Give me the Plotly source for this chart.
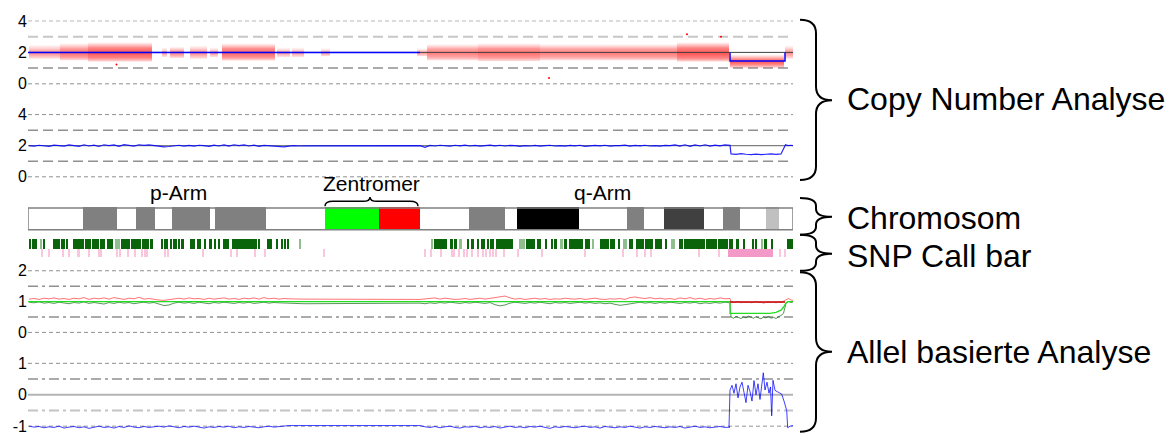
import plotly.graph_objects as go

W, H = 1173, 440
FONT = "Liberation Sans, Arial, Helvetica, sans-serif"
CHROM_LEN = 153.0  # Mb

# ---------------- chromosome ideogram (Mb) ----------------
BAND_START = [0.0, 11.0, 17.8, 21.6, 25.4, 28.8, 36.4, 37.4, 47.6, 59.4, 70.2, 78.4,
              88.2, 95.4, 97.8, 110.2, 119.8, 123.2, 127.2, 135.2, 139.0, 142.4, 147.6, 150.2]
BAND_END = [11.0, 17.8, 21.6, 25.4, 28.8, 36.4, 37.4, 47.6, 59.4, 70.2, 78.4, 88.2,
            95.4, 97.8, 110.2, 119.8, 123.2, 127.2, 135.2, 139.0, 142.4, 147.6, 150.2, 153.0]
BAND_STAIN = ["gneg", "gpos50", "gneg", "gpos50", "gneg", "gpos50", "gneg", "gpos50",
              "gneg", "acen_p", "acen_q", "gneg", "gpos50", "gneg", "gpos100", "gneg",
              "gpos50", "gneg", "gpos75", "gneg", "gpos50", "gneg", "gpos25", "gneg"]
ARM_LABELS = ["p-Arm", "Zentromer", "q-Arm"]
ARM_LABEL_POS = [30.0, 68.6, 114.8]

# ---------------- SNP call bar (Mb intervals) ----------------
CALL_START = [0.2, 0.8, 1.34, 2.94, 5.06, 6.66, 7.6, 9.06, 11.34, 12.8, 14.4, 15.74, 18.54,
              20.54, 22.8, 24.4, 26.66, 27.2, 28.54, 29.06, 30.0, 30.66, 32.4, 32.8, 33.74,
              35.2, 36.14, 37.34, 38.14, 39.06, 40.8, 41.86, 43.06, 45.06, 46.14, 47.74,
              49.74, 50.54, 51.2, 51.74,
              81.2, 81.86, 84.4, 85.2, 87.86, 88.66, 89.74, 90.54, 91.74, 92.4, 93.6, 96.26,
              99.6, 101.74, 103.46, 104.54, 105.2, 107.2, 108.26, 111.34, 114.4, 116.4, 118.0,
              120.26, 121.6, 123.46, 125.46, 127.34, 130.26, 131.2, 134.26, 135.6, 138.0,
              140.14, 141.6, 142.94, 144.8, 145.46, 147.2, 148.66, 151.74, 152.26]
CALL_END = [0.54, 1.06, 1.74, 3.46, 6.4, 7.46, 7.86, 11.2, 12.54, 14.14, 15.46, 17.06, 20.4,
            22.66, 24.14, 24.94, 26.94, 28.0, 28.8, 29.74, 30.14, 31.2, 32.66, 33.46, 34.66,
            35.6, 36.8, 37.46, 38.26, 40.14, 41.74, 42.94, 44.94, 45.86, 46.4, 48.8,
            50.0, 50.94, 51.46, 52.14,
            81.74, 83.86, 85.06, 85.86, 88.26, 89.2, 90.26, 91.46, 92.14, 93.2, 96.14, 97.06,
            101.46, 102.66, 103.74, 104.94, 105.74, 107.74, 111.06, 112.4, 116.14, 117.34, 118.26,
            121.06, 123.2, 125.06, 126.8, 127.74, 131.06, 134.14, 135.46, 137.74, 140.0,
            141.06, 142.14, 143.34, 145.06, 145.74, 147.74, 148.94, 152.14, 152.94]
CALL_FAINT_START = [2.54, 17.34, 54.26, 80.66, 86.26, 98.26, 106.4, 112.94, 119.06, 128.54, 146.54]
CALL_FAINT_END = [2.8, 18.4, 54.66, 80.94, 86.8, 99.46, 106.94, 113.2, 119.74, 129.34, 147.06]
NOCALL_START = [2.66, 4.0, 6.94, 8.0, 9.86, 12.14, 14.14, 14.54, 17.6, 18.26, 19.86, 21.2,
                22.66, 23.2, 23.74, 27.2, 27.86, 34.8, 40.54, 41.74, 45.2, 47.2, 59.06,
                79.34, 80.54, 82.4, 84.66, 85.06, 86.14, 87.06, 87.74, 88.66, 89.86, 90.94,
                91.46, 92.14, 92.8, 93.46, 95.06, 97.86, 102.66, 111.34, 118.94, 121.6, 123.2,
                124.54, 134.14, 138.14, 140.0, 150.26, 151.2]
NOCALL_END = [2.66, 4.0, 6.94, 8.0, 10.4, 12.14, 14.14, 14.8, 17.6, 18.26, 19.86, 21.46,
              22.66, 23.2, 23.74, 27.2, 27.86, 34.8, 40.54, 41.74, 45.2, 47.2, 59.06,
              79.34, 80.54, 82.4, 84.66, 85.34, 86.4, 87.06, 87.74, 88.66, 89.86, 90.94,
              91.46, 92.54, 93.2, 93.86, 95.06, 97.86, 102.66, 111.34, 118.94, 121.6, 123.2,
              124.54, 134.14, 138.14, 149.06, 150.26, 151.46]

# ---------------- copy number: raw probe cloud, summarised per segment ----------------
CLOUD_START = [0.2, 6.4, 12.0, 26.8, 28.4, 32.4, 36.4, 38.8, 49.8, 52.8, 58.6, 77.8, 79.8, 90.0, 102.4, 114.4, 129.8, 140.4, 151.4]
CLOUD_END = [6.4, 12.0, 24.8, 27.8, 31.2, 35.8, 38.0, 49.4, 52.4, 55.2, 60.4, 79.8, 90.0, 102.4, 114.4, 129.8, 140.2, 151.2, 153.0]
CLOUD_LO = [1.60, 1.50, 1.42, 1.70, 1.65, 1.60, 1.70, 1.48, 1.70, 1.70, 1.75, 1.75, 1.50, 1.45, 1.50, 1.50, 1.42, 1.02, 1.60]
CLOUD_HI = [2.45, 2.55, 2.62, 2.30, 2.35, 2.40, 2.30, 2.55, 2.30, 2.30, 2.25, 2.25, 2.50, 2.55, 2.50, 2.50, 2.62, 1.85, 2.40]
CORE_LO = [1.85, 1.75, 1.70, 1.90, 1.85, 1.85, 1.90, 1.74, 1.90, 1.90, 1.92, 1.90, 1.75, 1.72, 1.75, 1.75, 1.68, 1.28, 1.85]
CORE_HI = [2.15, 2.25, 2.32, 2.10, 2.15, 2.15, 2.10, 2.28, 2.10, 2.10, 2.08, 2.10, 2.25, 2.28, 2.25, 2.25, 2.32, 1.62, 2.15]
CLOUD_DENSITY = [0.45, 0.75, 1.0, 0.3, 0.5, 0.45, 0.35, 0.85, 0.3, 0.3, 0.3, 0.3, 0.6, 0.75, 0.6, 0.65, 1.0, 0.95, 0.45]
OUTLIER_POS = [104.2, 131.8, 138.6, 17.7]
OUTLIER_CN = [0.37, 3.16, 3.0, 1.23]

CN_PLOIDY = 2.0
CN_SEG_START = [0.0, 140.4]
CN_SEG_END = [78.4, 151.4]
CN_SEG_VALUE = [2.0, 1.45]

# smoothed copy number, 1 Mb steps
CN_SMOOTH_P_START = 0.2
CN_SMOOTH_P = [2.00, 1.97, 2.03, 2.00, 1.96, 2.04, 2.01, 1.97, 2.05, 2.00,
               1.96, 2.06, 1.98, 2.04, 1.95, 2.06, 2.00, 2.05, 1.96, 2.07,
               2.01, 1.97, 2.06, 2.02, 2.05, 2.01, 1.96, 1.93, 1.95, 1.99,
               2.03, 1.97, 2.02, 1.97, 2.03, 2.00, 1.96, 2.04, 1.98, 2.05,
               1.97, 2.06, 2.01, 2.05, 1.98, 2.04, 1.96, 2.02, 1.99, 2.00,
               1.95, 1.93, 1.97, 2.00, 1.98, 1.99]
CN_SMOOTH_Q_START = 78.4
CN_SMOOTH_Q = [2.00, 1.90, 2.02, 1.98, 2.03, 2.00, 1.97, 2.03, 1.99, 2.04,
               1.98, 2.02, 1.97, 2.01, 2.04, 1.99, 2.03, 1.98, 2.02, 2.00,
               1.96, 2.01, 1.98, 2.02, 1.97, 2.00, 2.03, 1.98, 2.01, 1.97,
               2.02, 1.99, 2.03, 1.96, 2.00, 2.02, 1.99, 2.03, 1.97, 2.01,
               2.00, 2.04, 1.97, 2.02, 1.99, 2.03, 1.98, 2.01, 1.97, 2.02,
               2.00, 2.05, 1.97, 2.06, 1.96, 2.05, 1.98, 2.06, 1.97, 2.04,
               1.99, 2.05, 2.02]
CN_SMOOTH_LOSS_START = 140.6
CN_SMOOTH_LOSS = [1.47, 1.44, 1.49, 1.45, 1.43, 1.46, 1.42, 1.45, 1.48, 1.44, 1.47]
CN_SMOOTH_TAIL_START = 151.5
CN_SMOOTH_TAIL = [2.06, 2.01, 2.03, 2.00]

# ---------------- allele based analysis ----------------
BAF_P_START = 0.2
BAF_UPPER_P = [1.08, 1.10, 1.07, 1.11, 1.09, 1.12, 1.08, 1.10, 1.07, 1.11,
               1.09, 1.13, 1.07, 1.11, 1.09, 1.12, 1.08, 1.13, 1.10, 1.07,
               1.11, 1.09, 1.14, 1.08, 1.10, 1.07, 1.05, 1.04, 1.06, 1.09,
               1.11, 1.08, 1.12, 1.09, 1.10, 1.07, 1.11, 1.08, 1.10, 1.12,
               1.08, 1.10, 1.07, 1.11, 1.09, 1.12, 1.08, 1.13, 1.09, 1.11,
               1.08, 1.10, 1.09, 1.08, 1.08, 1.08]
BAF_LOWER_P = [0.98, 0.96, 0.99, 0.95, 0.97, 0.94, 0.98, 0.96, 0.93, 0.97,
               0.95, 0.99, 0.94, 0.97, 0.95, 0.92, 0.97, 0.94, 0.98, 0.95,
               0.97, 0.93, 0.96, 0.98, 0.95, 0.97, 0.92, 0.87, 0.89, 0.95,
               0.98, 0.95, 0.97, 0.94, 0.98, 0.96, 0.93, 0.97, 0.95, 0.98,
               0.96, 0.94, 0.97, 0.95, 0.98, 0.94, 0.96, 0.98, 0.95, 0.97,
               0.96, 0.95, 0.94, 0.93, 0.93, 0.93]
BAF_Q_START = 78.4
BAF_UPPER_Q = [1.07, 1.08, 1.10, 1.12, 1.08, 1.11, 1.09, 1.07, 1.08, 1.10,
               1.07, 1.09, 1.11, 1.08, 1.10, 1.12, 1.16, 1.18, 1.12, 1.08,
               1.10, 1.07, 1.09, 1.11, 1.08, 1.10, 1.07, 1.09, 1.08, 1.11,
               1.09, 1.08, 1.10, 1.07, 1.09, 1.11, 1.08, 1.07, 1.09, 1.08,
               1.10, 1.07, 1.13, 1.15, 1.12, 1.10, 1.13, 1.09, 1.11, 1.08,
               1.10, 1.07, 1.12, 1.09, 1.13, 1.08, 1.11, 1.07, 1.10, 1.08,
               1.12, 1.09, 1.10]
BAF_LOWER_Q = [0.95, 0.93, 0.96, 0.94, 0.97, 0.95, 0.98, 0.96, 0.94, 0.97,
               0.95, 0.98, 0.96, 0.94, 0.97, 0.90, 0.86, 0.89, 0.95, 0.98,
               0.96, 0.94, 0.97, 0.95, 0.98, 0.96, 0.93, 0.97, 0.95, 0.97,
               0.94, 0.96, 0.98, 0.95, 0.97, 0.94, 0.96, 0.93, 0.95, 0.91,
               0.88, 0.90, 0.93, 0.96, 0.98, 0.95, 0.97, 0.94, 0.97, 0.95,
               0.98, 0.96, 0.94, 0.97, 0.95, 0.98, 0.93, 0.96, 0.94, 0.97,
               0.95, 0.98, 0.96]
BAF_LOSS_START = 140.6
BAF_UPPER_LOSS = [0.99, 0.97, 0.98, 1.00, 0.96, 0.98, 0.97, 0.99, 0.96, 0.98, 1.00,
                  0.97, 0.98, 0.95, 0.97, 0.99, 0.97, 0.98, 0.96, 0.99, 0.97, 1.02]
BAF_LOWER_LOSS = [0.50, 0.46, 0.52, 0.48, 0.45, 0.50, 0.47, 0.53, 0.49, 0.46, 0.51,
                  0.48, 0.44, 0.50, 0.47, 0.52, 0.46, 0.49, 0.45, 0.51, 0.55, 0.62]
BAF_TAIL_START = 151.6
BAF_UPPER_TAIL = [1.06, 1.10, 1.05, 1.04]
BAF_LOWER_TAIL = [0.95, 1.00, 0.97, 0.99]
BAF_SEG_POS = [0.0, 140.4, 140.4, 148.4, 149.6, 150.6, 151.2, 151.6, 152.0, 153.0]
BAF_SEG_VAL = [1.0, 1.0, 0.62, 0.62, 0.65, 0.72, 0.84, 0.96, 1.0, 1.0]
BAF_LOSS_SEG_POS = [140.4, 151.4]
BAF_LOSS_SEG_VAL = [0.99, 0.99]

DIFF_P = [-1.00, -1.03, -1.01, -1.05, -1.02, -1.04, -1.00, -1.06, -1.03, -1.01,
          -1.05, -1.02, -1.07, -1.03, -1.00, -1.04, -1.02, -1.06, -1.01, -1.04,
          -0.99, -1.03, -1.05, -1.01, -1.04, -1.02, -1.00, -1.03, -0.99, -1.02,
          -1.05, -1.01, -1.03, -1.00, -1.04, -1.06, -1.02, -1.04, -1.01, -1.03,
          -1.00, -1.05, -1.02, -1.04, -1.01, -1.03, -1.05, -1.02, -1.00, -1.03,
          -1.01, -0.99, -0.98, -0.98, -0.98, -0.98]
DIFF_Q = [-0.98, -1.02, -1.04, -1.01, -1.05, -1.02, -1.00, -1.04, -1.06, -1.02,
          -1.03, -1.00, -1.05, -1.02, -1.04, -1.01, -1.06, -1.03, -1.00, -1.04,
          -1.02, -1.05, -1.01, -1.03, -1.00, -1.04, -1.07, -1.02, -1.04, -1.01,
          -1.03, -1.05, -1.02, -1.00, -1.04, -1.02, -1.06, -1.01, -1.03, -1.05,
          -1.02, -1.04, -1.00, -1.03, -1.06, -1.02, -1.04, -1.01, -1.03, -1.05,
          -1.02, -1.04, -1.01, -1.06, -1.03, -1.00, -1.04, -1.02, -1.05, -1.03,
          -1.01, -1.04, -1.03]
DIFF_LOSS_POS = [140.2, 140.4, 140.8, 141.2, 141.6, 142.0, 142.4, 142.8, 143.2, 143.6,
                 144.0, 144.4, 144.8, 145.2, 145.6, 146.0, 146.4, 146.8, 147.06, 147.4,
                 147.8, 148.2, 148.5, 148.74, 149.0, 149.4, 150.0, 150.74, 151.2, 151.74,
                 151.94, 152.4, 153.0]
DIFF_LOSS = [-1.02, 0.15, 0.30, 0.05, 0.35, -0.10, 0.25, 0.40, 0.05, -0.25,
             0.30, 0.10, -0.20, 0.45, 0.00, 0.35, -0.15, 0.30, 0.70, 0.15,
             0.40, 0.05, 0.25, -0.67, 0.46, 0.14, 0.08, 0.02, -0.20, -0.50,
             -1.05, -1.00, -0.98]

SECTION_TITLES = ["Copy Number Analyse", "Chromosom", "SNP Call bar", "Allel basierte Analyse"]


# ---------------- helpers ----------------
def steps(start, values, step=1.0):
    return [start + i * step for i in range(len(values))]


def dom(top_px, bottom_px):
    return [1 - bottom_px / H, 1 - top_px / H]


def X(px):
    return px / W


def Y(py):
    return 1 - py / H


STAIN_COLOR = {"gneg": "#ffffff", "gpos25": "#c0c0c0", "gpos50": "#808080", "gpos75": "#404040",
               "gpos100": "#000000", "acen_p": "#00ff00", "acen_q": "#ff0000"}

fig = go.Figure()

# ---- panel 1: raw copy number, probe density as a vertical gradient per segment ----
for s, e, lo, hi, clo, chi, d in zip(CLOUD_START, CLOUD_END, CLOUD_LO, CLOUD_HI, CORE_LO, CORE_HI, CLOUD_DENSITY):
    span = hi - lo
    f1 = (clo - lo) / span
    f2 = (chi - lo) / span
    fm = (f1 + f2) / 2
    edge = f"rgba(255,30,30,{0.04 + 0.06 * d:.3f})"
    core = f"rgba(255,0,0,{0.18 + 0.30 * d:.3f})"
    peak = f"rgba(255,0,0,{0.25 + 0.42 * d:.3f})"
    fig.add_trace(go.Scatter(
        x=[s, e, e, s, s], y=[lo, lo, hi, hi, lo], mode="lines", line=dict(width=0),
        fill="toself", fillcolor=core,
        fillgradient=dict(type="vertical", start=lo, stop=hi,
                          colorscale=[[0, edge], [f1, core], [fm, peak], [f2, core], [1, edge]]),
        xaxis="x", yaxis="y", hoverinfo="skip"))
fig.add_trace(go.Scatter(x=OUTLIER_POS, y=OUTLIER_CN, mode="markers", marker=dict(color="red", size=2),
                         xaxis="x", yaxis="y", hoverinfo="skip"))
fig.add_trace(go.Scatter(x=[0, CHROM_LEN], y=[CN_PLOIDY, CN_PLOIDY], mode="lines",
                         line=dict(color="#404040", width=1), xaxis="x", yaxis="y", hoverinfo="skip"))
segx, segy = [], []
for s, e, v in zip(CN_SEG_START, CN_SEG_END, CN_SEG_VALUE):
    if v == CN_PLOIDY:
        segx += [s, e, None]
        segy += [v, v, None]
    else:
        segx += [s, s, e, e, None]
        segy += [CN_PLOIDY, v, v, CN_PLOIDY, None]
fig.add_trace(go.Scatter(x=segx, y=segy, mode="lines", line=dict(color="#0000ff", width=1.5),
                         xaxis="x", yaxis="y", hoverinfo="skip"))

# ---- panel 2: smoothed copy number ----
fig.add_trace(go.Scatter(x=[0, CHROM_LEN], y=[CN_PLOIDY, CN_PLOIDY], mode="lines",
                         line=dict(color="#606060", width=1), xaxis="x", yaxis="y2", hoverinfo="skip"))
sx = (steps(CN_SMOOTH_P_START, CN_SMOOTH_P) + steps(CN_SMOOTH_Q_START, CN_SMOOTH_Q)
      + steps(CN_SMOOTH_LOSS_START, CN_SMOOTH_LOSS) + steps(CN_SMOOTH_TAIL_START, CN_SMOOTH_TAIL, 0.5))
sy = CN_SMOOTH_P + CN_SMOOTH_Q + CN_SMOOTH_LOSS + CN_SMOOTH_TAIL
fig.add_trace(go.Scatter(x=sx, y=sy, mode="lines", line=dict(color="rgba(0,0,255,0.85)", width=1.2),
                         xaxis="x", yaxis="y2", hoverinfo="skip"))

# ---- ideogram ----
CHR_Y, CHR_H = 22.85, 22.3
CALL_Y, CALL_H = 48.65, 10.7
NOCALL_Y, NOCALL_H = 58.0, 9.0
fig.add_trace(go.Bar(y=[CHR_Y] * len(BAND_START), x=[e - s for s, e in zip(BAND_START, BAND_END)],
                     base=BAND_START, width=CHR_H, orientation="h",
                     marker=dict(color=[STAIN_COLOR[s] for s in BAND_STAIN], line_width=0),
                     xaxis="x", yaxis="y3", hoverinfo="skip"))
MIN_W = 0.22
fig.add_trace(go.Bar(y=[CALL_Y] * len(CALL_FAINT_START),
                     x=[max(e - s, MIN_W) for s, e in zip(CALL_FAINT_START, CALL_FAINT_END)],
                     base=CALL_FAINT_START, width=CALL_H, orientation="h",
                     marker=dict(color="#8fbf8f", line_width=0), xaxis="x", yaxis="y3", hoverinfo="skip"))
fig.add_trace(go.Bar(y=[CALL_Y] * len(CALL_START),
                     x=[max(e - s, MIN_W) for s, e in zip(CALL_START, CALL_END)],
                     base=CALL_START, width=CALL_H, orientation="h",
                     marker=dict(color="#0a650a", line_width=0), xaxis="x", yaxis="y3", hoverinfo="skip"))
fig.add_trace(go.Bar(y=[NOCALL_Y] * len(NOCALL_START),
                     x=[max(e - s, MIN_W) for s, e in zip(NOCALL_START, NOCALL_END)],
                     base=NOCALL_START, width=NOCALL_H, orientation="h",
                     marker=dict(color=["#f49ac8" if e - s > 2 else "#f9c6de" for s, e in zip(NOCALL_START, NOCALL_END)],
                                 line_width=0),
                     xaxis="x", yaxis="y3", hoverinfo="skip"))

# ---- panel 3: allele frequencies ----
bx = (steps(BAF_P_START, BAF_UPPER_P) + steps(BAF_Q_START, BAF_UPPER_Q)
      + steps(BAF_LOSS_START, BAF_UPPER_LOSS, 0.5) + steps(BAF_TAIL_START, BAF_UPPER_TAIL, 0.5))
fig.add_trace(go.Scatter(x=bx, y=BAF_LOWER_P + BAF_LOWER_Q + BAF_LOWER_LOSS + BAF_LOWER_TAIL, mode="lines",
                         line=dict(color="rgba(0,90,0,0.65)", width=1), xaxis="x", yaxis="y4", hoverinfo="skip"))
fig.add_trace(go.Scatter(x=bx, y=BAF_UPPER_P + BAF_UPPER_Q + BAF_UPPER_LOSS + BAF_UPPER_TAIL, mode="lines",
                         line=dict(color="rgba(255,0,0,0.55)", width=1), xaxis="x", yaxis="y4", hoverinfo="skip"))
fig.add_trace(go.Scatter(x=BAF_SEG_POS, y=BAF_SEG_VAL, mode="lines", line=dict(color="#22dd22", width=1.3),
                         xaxis="x", yaxis="y4", hoverinfo="skip"))
fig.add_trace(go.Scatter(x=BAF_LOSS_SEG_POS, y=BAF_LOSS_SEG_VAL, mode="lines", line=dict(color="#c00000", width=1.5),
                         xaxis="x", yaxis="y4", hoverinfo="skip"))

# ---- panel 4: allelic difference ----
dx = steps(BAF_P_START, DIFF_P) + steps(BAF_Q_START, DIFF_Q) + DIFF_LOSS_POS
fig.add_trace(go.Scatter(x=dx, y=DIFF_P + DIFF_Q + DIFF_LOSS, mode="lines",
                         line=dict(color="rgba(0,0,255,0.75)", width=1), xaxis="x", yaxis="y5", hoverinfo="skip"))

# ---------------- reference lines ----------------
SHORT = "4px,3px"
LONG = "10px,5px"
LDOT = "10px,4px,3px,4px"
GRID = {
    "y": [(4, SHORT, "#b8b8b8", 1), (3, LONG, "#c8c8c8", 2), (1, LONG, "#909090", 1.5), (0, SHORT, "#909090", 1)],
    "y2": [(4, SHORT, "#909090", 1), (3, LONG, "#909090", 1.5), (1, LONG, "#909090", 1.5), (0, SHORT, "#909090", 1)],
    "y4": [(2, SHORT, "#909090", 1), (1.5, LDOT, "#909090", 1.5), (0.5, LDOT, "#909090", 1.5), (0, SHORT, "#909090", 1)],
    "y5": [(1, SHORT, "#909090", 1), (0.5, LDOT, "#909090", 1.5), (0, None, "#b4b4b4", 2),
           (-0.5, LDOT, "#c4c4c4", 2), (-1, SHORT, "#b8b8b8", 1.5)],
}
shapes = []
for ax, lines in GRID.items():
    for v, dash, col, w in lines:
        ln = dict(color=col, width=w)
        if dash:
            ln["dash"] = dash
        shapes.append(dict(type="line", xref="x domain", yref=ax, x0=0, x1=1, y0=v, y1=v, line=ln, layer="below"))

shapes.append(dict(type="rect", xref="x", yref="y3", x0=0, x1=CHROM_LEN, y0=CHR_Y - CHR_H / 2, y1=CHR_Y + CHR_H / 2,
                   line=dict(color="#808080", width=1.5), layer="above"))


def vbrace(top, bottom, tip, r, x0=800, x1=816, x2=832):
    return (f"M {X(x0)},{Y(top)} Q {X(x1)},{Y(top)} {X(x1)},{Y(top + r)} "
            f"L {X(x1)},{Y(tip - r)} Q {X(x1)},{Y(tip)} {X(x2)},{Y(tip)} "
            f"Q {X(x1)},{Y(tip)} {X(x1)},{Y(tip + r)} "
            f"L {X(x1)},{Y(bottom - r)} Q {X(x1)},{Y(bottom)} {X(x0)},{Y(bottom)}")


for top, bottom, tip, r in [(16, 179.3, 98, 14), (197.7, 235, 216.7, 8), (235, 271.7, 254.3, 8), (273.3, 435.7, 354.3, 14)]:
    shapes.append(dict(type="path", xref="paper", yref="paper", path=vbrace(top, bottom, tip, r),
                       line=dict(color="black", width=2)))

# brace over the centromere
cb = (f"M {X(325)},{Y(206)} Q {X(325)},{Y(201)} {X(333)},{Y(201)} L {X(363)},{Y(201)} "
      f"Q {X(370)},{Y(201)} {X(370)},{Y(196.5)} Q {X(370)},{Y(201)} {X(377)},{Y(201)} "
      f"L {X(410)},{Y(201)} Q {X(418)},{Y(201)} {X(418)},{Y(206)}")
shapes.append(dict(type="path", xref="paper", yref="paper", path=cb, line=dict(color="black", width=1.5)))

annotations = []
for txt, pos, py in zip(ARM_LABELS, ARM_LABEL_POS, [192, 182.5, 192]):
    annotations.append(dict(text=txt, x=pos, xref="x", y=Y(py), yref="paper", showarrow=False,
                            xanchor="center", yanchor="middle", font=dict(family=FONT, size=21, color="black")))
for txt, py in zip(SECTION_TITLES, [96.7, 217.8, 256.3, 354.2]):
    annotations.append(dict(text=txt, x=X(845), xref="paper", y=Y(py), yref="paper", showarrow=False,
                            xanchor="left", yanchor="middle", font=dict(family=FONT, size=32, color="black")))

tick_font = dict(family=FONT, size=16, color="black")
yax_common = dict(showgrid=False, zeroline=False, showline=False, ticks="", tickfont=tick_font,
                  anchor="x", fixedrange=True)

fig.update_layout(
    width=W, height=H, margin=dict(l=0, r=0, t=0, b=0),
    paper_bgcolor="white", plot_bgcolor="rgba(0,0,0,0)",
    showlegend=False, barmode="overlay", bargap=0,
    font=dict(family=FONT),
    xaxis=dict(domain=[28 / W, 793 / W], range=[0, CHROM_LEN], visible=False, anchor="y5", fixedrange=True),
    yaxis=dict(domain=dom(12.5, 86.1), range=[-0.3, 4.3], tickvals=[0, 2, 4], ticktext=["0", "2", "4"], **yax_common),
    yaxis2=dict(domain=dom(107.9, 180.75), range=[-0.3, 4.3], tickvals=[0, 2, 4], ticktext=["0", "2", "4"], **yax_common),
    yaxis3=dict(domain=dom(196, 262), range=[66, 0], visible=False, anchor="x", fixedrange=True),
    yaxis4=dict(domain=dom(267.0, 339.2), range=[-0.15, 2.15], tickvals=[0, 1, 2], ticktext=["0", "1", "2"], **yax_common),
    yaxis5=dict(domain=dom(359.6, 436.4), range=[-1.2, 1.2], tickvals=[-1, 0, 1], ticktext=["-1", "0", "1"], **yax_common),
    shapes=shapes, annotations=annotations,
)

fig.write_html("out.html")
